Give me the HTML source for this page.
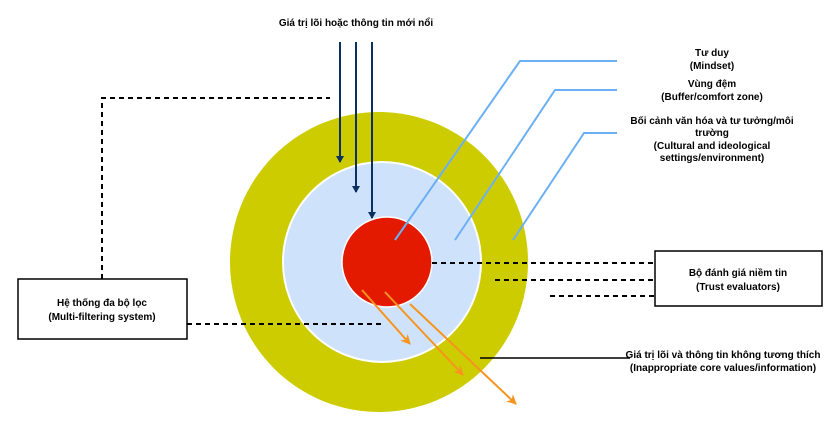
<!DOCTYPE html>
<html><head><meta charset="utf-8"><style>
body{margin:0;background:#fff;}
svg{display:block;font-family:"Liberation Sans","Noto Sans CJK SC",sans-serif;font-weight:bold;}
</style></head><body>
<svg width="836" height="432" viewBox="0 0 836 432">
<defs>
<marker id="an" markerWidth="8" markerHeight="8" refX="6" refY="4" orient="auto" markerUnits="userSpaceOnUse"><path d="M0,0 L7,4 L0,8 z" fill="#0d2f5e"/></marker>
<marker id="ao" markerWidth="12" markerHeight="12" refX="9" refY="6" orient="auto" markerUnits="userSpaceOnUse"><path d="M0,1 L10,6 L0,11 L3,6 z" fill="#f7941d"/></marker>
</defs>
<ellipse cx="379" cy="262" rx="149" ry="150" fill="#cccc00"/>
<ellipse cx="382" cy="262" rx="99" ry="100" fill="#cfe2fb" stroke="#fff" stroke-width="2"/>
<ellipse cx="387" cy="262" rx="45" ry="45" fill="#e41a00" stroke="#fff" stroke-width="1.5"/>
<g stroke="#000" stroke-width="2" stroke-dasharray="5,4" fill="none">
<path d="M102,279 V98 H330"/>
<path d="M187,324 H385"/>
<path d="M432,263 H655"/>
<path d="M495,280 H655"/>
<path d="M550,296 H655"/>
</g>
<line x1="480" y1="358" x2="630" y2="358" stroke="#000" stroke-width="1.5"/>
<g stroke="#6bb0f5" stroke-width="2" fill="none">
<path d="M395,240 L520,61 H617"/>
<path d="M455,240 L555,90 H617"/>
<path d="M513,240 L584,133 H617"/>
</g>
<g stroke="#0d2f5e" stroke-width="2">
<line x1="340" y1="42" x2="340" y2="162" marker-end="url(#an)"/>
<line x1="356" y1="42" x2="356" y2="192" marker-end="url(#an)"/>
<line x1="372" y1="42" x2="372" y2="218" marker-end="url(#an)"/>
</g>
<g stroke="#f7941d" stroke-width="2">
<line x1="362" y1="290" x2="410" y2="344" marker-end="url(#ao)"/>
<line x1="385" y1="292" x2="463" y2="375" marker-end="url(#ao)"/>
<line x1="410" y1="304" x2="516" y2="404" marker-end="url(#ao)"/>
</g>
<rect x="18" y="279" width="169" height="60" fill="#fff" stroke="#000" stroke-width="1.5"/>
<rect x="655" y="251" width="167" height="55" fill="#fff" stroke="#000" stroke-width="1.5"/>
<g font-size="10" text-anchor="middle" fill="#000">
<text x="356" y="26">Giá trị lõi hoặc thông tin mới nổi</text>
<text x="102" y="306">Hệ thống đa bộ lọc</text>
<text x="102" y="320">(Multi-filtering system)</text>
<text x="738" y="276">Bộ đánh giá niềm tin</text>
<text x="738" y="290">(Trust evaluators)</text>
<text x="712" y="56">Tư duy</text>
<text x="712" y="69">(Mindset)</text>
<text x="712" y="87">Vùng đệm</text>
<text x="712" y="100">(Buffer/comfort zone)</text>
<text x="712" y="124">Bối cảnh văn hóa và tư tưởng/môi</text>
<text x="712" y="136">trường</text>
<text x="712" y="149">(Cultural and ideological</text>
<text x="712" y="161">settings/environment)</text>
<text x="723" y="358">Giá trị lõi và thông tin không tương thích</text>
<text x="723" y="371">(Inappropriate core values/information)</text>
</g>
</svg>
</body></html>
